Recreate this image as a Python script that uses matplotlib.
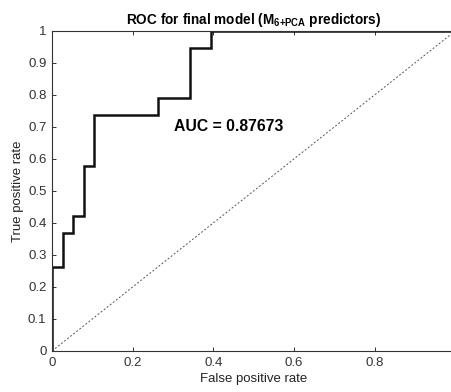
import matplotlib
matplotlib.use("Agg")
import matplotlib.pyplot as plt

plt.rcParams['font.family'] = ['Liberation Sans', 'DejaVu Sans']
plt.rcParams['mathtext.fontset'] = 'custom'
plt.rcParams['mathtext.rm'] = 'Liberation Sans'
plt.rcParams['mathtext.bf'] = 'Liberation Sans:bold'

fpr = [0, 0, 0.0263, 0.0263, 0.0526, 0.0526, 0.0789, 0.0789, 0.1053, 0.1053,
       0.2632, 0.2632, 0.3421, 0.3421, 0.3947, 0.3947, 1.0]
tpr = [0, 0.2632, 0.2632, 0.3684, 0.3684, 0.4211, 0.4211, 0.5789, 0.5789, 0.7368,
       0.7368, 0.7895, 0.7895, 0.9474, 0.9474, 1.0, 1.0]
chance = [0, 1]
auc_label = "AUC = 0.87673"
xticks = [0, 0.2, 0.4, 0.6, 0.8]
yticks = [0, 0.1, 0.2, 0.3, 0.4, 0.5, 0.6, 0.7, 0.8, 0.9, 1]

fig = plt.figure(figsize=(4.51, 3.92), dpi=100)
ax = fig.add_axes([0.1153, 0.1046, 0.894, 0.8164])

ax.plot(chance, chance, color='#555555', linestyle=(0, (2, 2)), linewidth=0.7)
ax.plot(fpr, tpr, color='#111111', linewidth=1.8, solid_joinstyle='miter')

ax.set_xlim(0, 1)
ax.set_ylim(0, 1)
ax.set_xticks(xticks)
ax.set_xticklabels(['0', '0.2', '0.4', '0.6', '0.8'])
ax.set_yticks(yticks)
ax.set_yticklabels(['0', '0.1', '0.2', '0.3', '0.4', '0.5', '0.6', '0.7', '0.8', '0.9', '1'])
ax.tick_params(direction='in', length=3, width=0.7, colors='#333333',
               labelsize=9.5, top=True, right=True, pad=4)
for s in ax.spines.values():
    s.set_color('#333333')
    s.set_linewidth(0.8)

ax.set_xlabel('False positive rate', fontsize=9.5, color='#222222', labelpad=3)
ax.set_ylabel('True positive rate', fontsize=9.5, color='#222222', labelpad=3)
ax.set_title(r'ROC for final model (M$_{\mathbf{6{+}PCA}}$ predictors)',
             fontsize=9.8, fontweight='bold', pad=5)
ax.text(0.302, 0.70, auc_label, fontsize=11.3, fontweight='bold', va='center', ha='left')

fig.savefig('out.png', dpi=100)
